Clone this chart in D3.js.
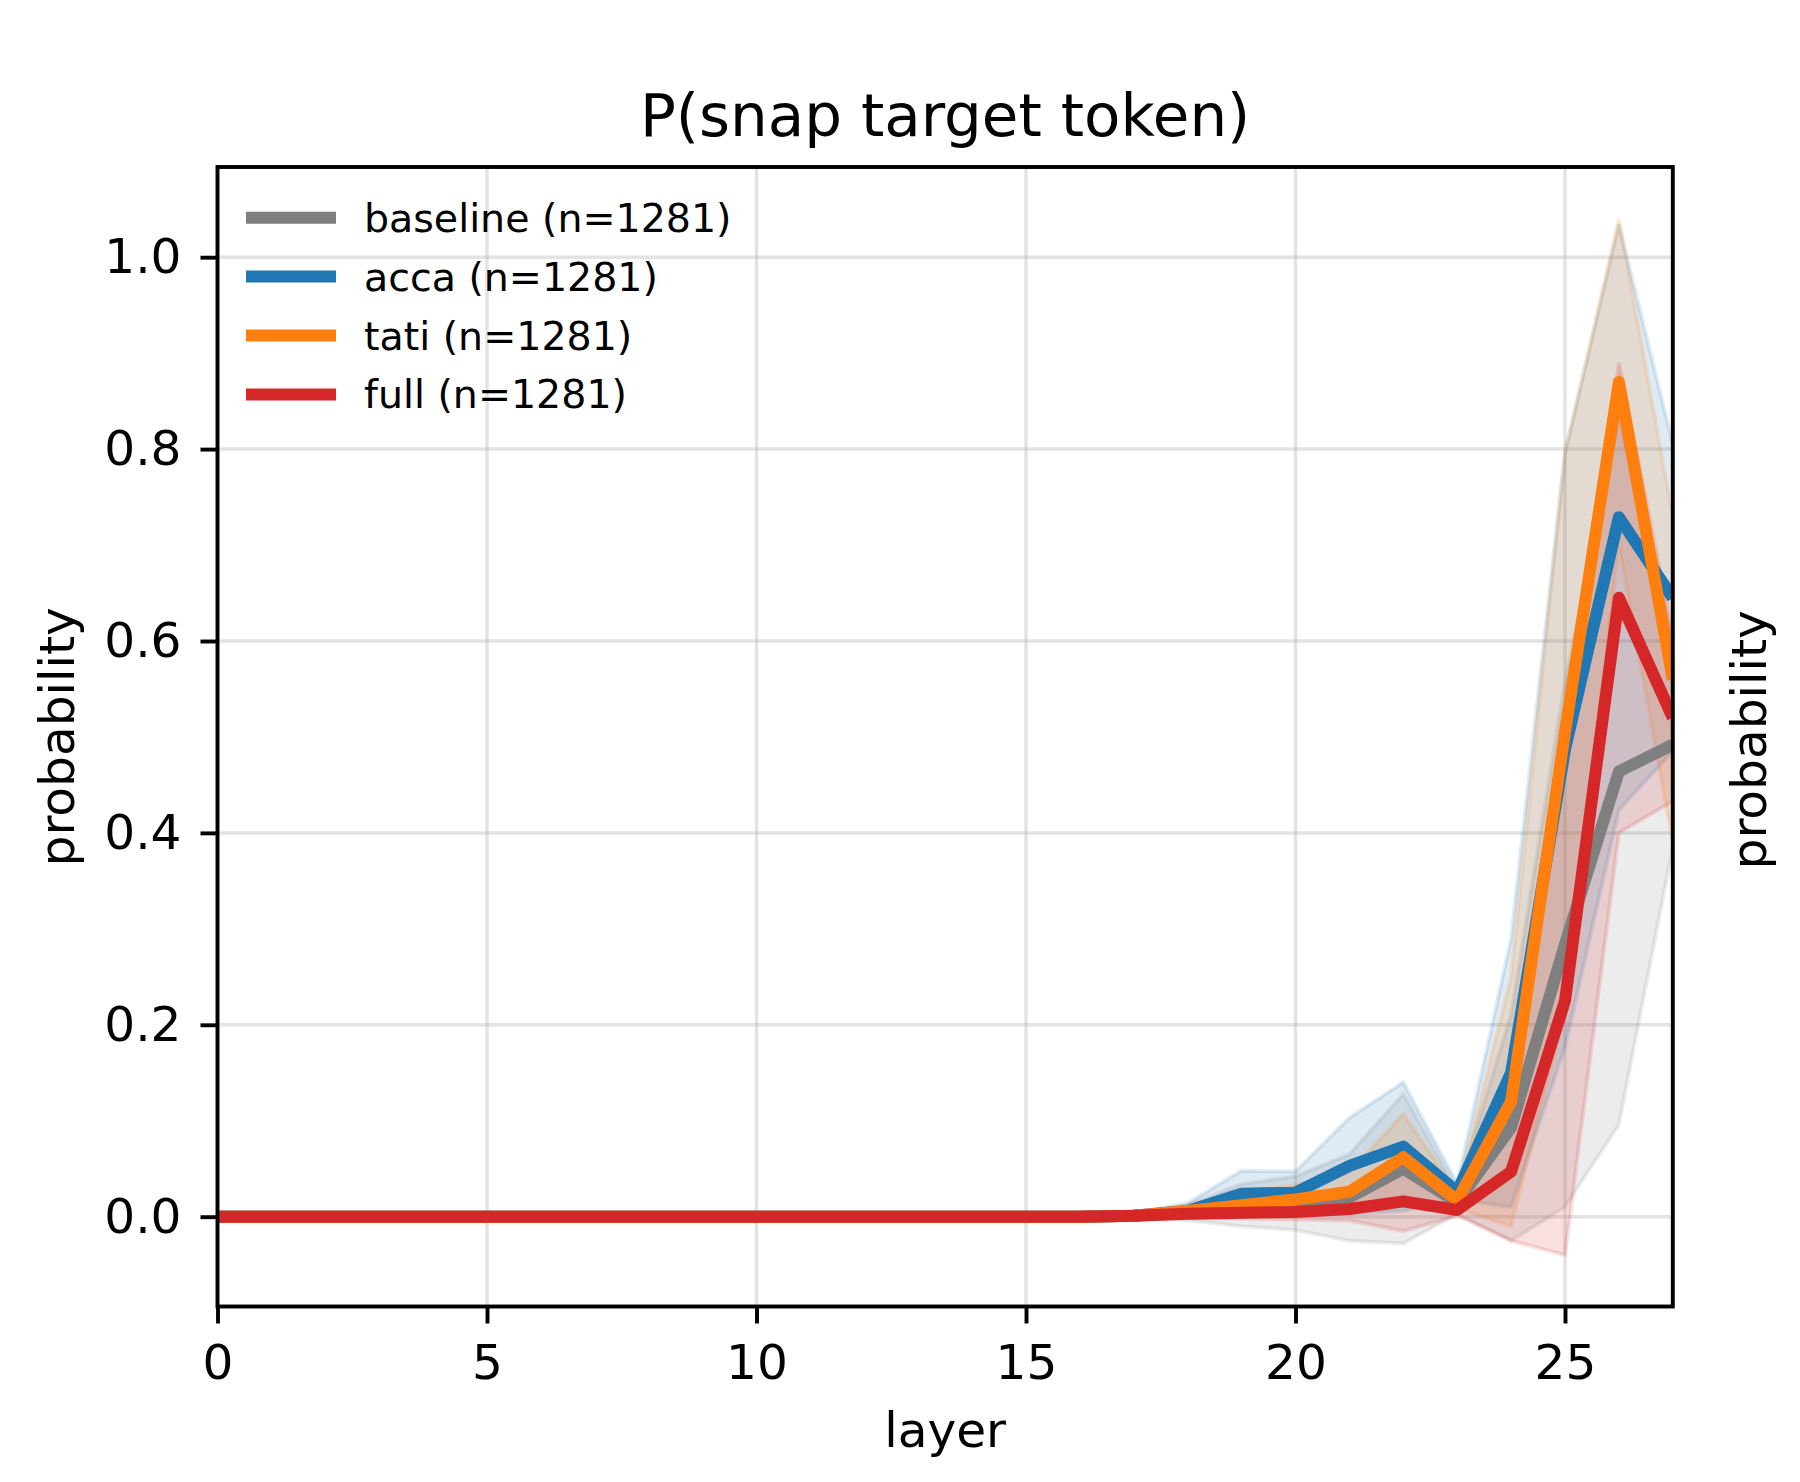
<!DOCTYPE html>
<html>
<head>
<meta charset="utf-8">
<script src="https://cdn.jsdelivr.net/npm/d3@7/dist/d3.min.js"></script>
<style>
  body { margin: 0; background: #fff; }
  text { font-family: "DejaVu Sans", sans-serif; }
</style>
</head>
<body>
<svg width="1800" height="1482"></svg>
<script>

// layers 0..27
var layers = d3.range(0, 28);

var seriesNames = [ "baseline (n=1281)", "acca (n=1281)", "tati (n=1281)", "full (n=1281)" ];
var seriesColors = [ "#7f7f7f", "#1f77b4", "#ff7f0e", "#d62728" ];

//                  0 .. 16 are flat                                 17     18     19     20     21     22     23     24     25     26     27
var baselineMean = [0,0,0,0,0,0,0,0,0,0,0,0,0,0,0,0,0,             0.001, 0.004, 0.012, 0.014, 0.020, 0.050, 0.015, 0.093, 0.284, 0.464, 0.492];
var baselineStd  = [0,0,0,0,0,0,0,0,0,0,0,0,0,0,0,0,0.001,         0.003, 0.008, 0.022, 0.028, 0.045, 0.078, 0.012, 0.118, 0.274, 0.368, 0.107];

var accaMean     = [0,0,0,0,0,0,0,0,0,0,0,0,0,0,0,0,0,             0.001, 0.006, 0.024, 0.025, 0.053, 0.073, 0.026, 0.150, 0.487, 0.729, 0.645];
var accaStd      = [0,0,0,0,0,0,0,0,0,0,0,0,0,0,0,0,0,             0.002, 0.008, 0.024, 0.022, 0.050, 0.067, 0.008, 0.140, 0.310, 0.305, 0.160];

var tatiMean     = [0,0,0,0,0,0,0,0,0,0,0,0,0,0,0,0,0,             0.001, 0.006, 0.012, 0.018, 0.026, 0.062, 0.017, 0.120, 0.505, 0.870, 0.560];
var tatiStd      = [0,0,0,0,0,0,0,0,0,0,0,0,0,0,0,0,0,             0.002, 0.006, 0.012, 0.015, 0.020, 0.045, 0.008, 0.130, 0.290, 0.170, 0.170];

var fullMean     = [0,0,0,0,0,0,0,0,0,0,0,0,0,0,0,0,0,             0.001, 0.003, 0.004, 0.005, 0.008, 0.016, 0.007, 0.047, 0.225, 0.645, 0.520];
var fullStd      = [0,0,0,0,0,0,0,0,0,0,0,0,0,0,0,0,0,             0.002, 0.004, 0.006, 0.008, 0.012, 0.031, 0.006, 0.072, 0.265, 0.245, 0.087];

var xTicks = [0, 5, 10, 15, 20, 25];
var yTicks = [0.0, 0.2, 0.4, 0.6, 0.8, 1.0];

var means = [ baselineMean, accaMean, tatiMean, fullMean ];
var stds  = [ baselineStd, accaStd, tatiStd, fullStd ];

var plot = { left: 217.5, right: 1672.8, top: 167, bottom: 1306.5 };

var svg = d3.select('svg')
  .style('background-color', '#fff');

var x = d3.scaleLinear()
  .domain([0, 27])
  .range([plot.left, plot.right]);

var y = d3.scaleLinear()
  .domain([-0.0936, 1.094])
  .range([plot.bottom, plot.top]);

svg.append('clipPath')
  .attr('id', 'clip')
  .append('rect')
  .attr('x', plot.left)
  .attr('y', plot.top)
  .attr('width', plot.right - plot.left)
  .attr('height', plot.bottom - plot.top);

// grid
var grid = svg.append('g');
grid.selectAll('line.gx')
  .data(xTicks)
  .enter()
  .append('line')
  .attr('x1', d => x(d)).attr('x2', d => x(d))
  .attr('y1', plot.top).attr('y2', plot.bottom)
  .attr('stroke', '#b0b0b0').attr('stroke-opacity', 0.35).attr('stroke-width', 3.5);
grid.selectAll('line.gy')
  .data(yTicks)
  .enter()
  .append('line')
  .attr('y1', d => y(d)).attr('y2', d => y(d))
  .attr('x1', plot.left).attr('x2', plot.right)
  .attr('stroke', '#b0b0b0').attr('stroke-opacity', 0.35).attr('stroke-width', 3.5);

// bands + lines
var area = d3.area()
  .x(d => x(d.layer))
  .y0(d => y(d.mean - d.std))
  .y1(d => y(d.mean + d.std));

var line = d3.line()
  .x(d => x(d.layer))
  .y(d => y(d.mean));

var g = svg.append('g').attr('clip-path', 'url(#clip)');

means.forEach(function(m, i) {
  var pts = layers.map((l, j) => ({ layer: l, mean: m[j], std: stds[i][j] }));
  g.append('path')
    .attr('d', area(pts))
    .attr('fill', seriesColors[i])
    .attr('fill-opacity', 0.15)
    .attr('stroke', seriesColors[i])
    .attr('stroke-opacity', 0.15)
    .attr('stroke-width', 4);
});

means.forEach(function(m, i) {
  var pts = layers.map((l, j) => ({ layer: l, mean: m[j] }));
  g.append('path')
    .attr('d', line(pts))
    .attr('fill', 'none')
    .attr('stroke', seriesColors[i])
    .attr('stroke-width', 12)
    .attr('stroke-linejoin', 'round');
});

// axes
var xAxis = svg.append('g')
  .attr('transform', `translate(0, ${plot.bottom})`)
  .call(d3.axisBottom(x).tickValues(xTicks).tickFormat(d3.format('d')).tickSize(17).tickPadding(21));

var yAxis = svg.append('g')
  .attr('transform', `translate(${plot.left}, 0)`)
  .call(d3.axisLeft(y).tickValues(yTicks).tickFormat(d3.format('.1f')).tickSize(17).tickPadding(19));

[xAxis, yAxis].forEach(function(a) {
  a.select('.domain').remove();
  a.selectAll('.tick line').attr('stroke', '#000').attr('stroke-width', 3.9);
  a.selectAll('.tick text')
    .attr('fill', '#000')
    .style('font-family', '"DejaVu Sans", sans-serif')
    .style('font-size', '48.6px');
});

// frame
svg.append('rect')
  .attr('x', plot.left)
  .attr('y', plot.top)
  .attr('width', plot.right - plot.left)
  .attr('height', plot.bottom - plot.top)
  .attr('fill', 'none')
  .attr('stroke', '#000')
  .attr('stroke-width', 3.9);

// title and labels
svg.append('text')
  .attr('x', (plot.left + plot.right) / 2)
  .attr('y', 136)
  .attr('text-anchor', 'middle')
  .style('font-size', '59.5px')
  .text('P(snap target token)');

svg.append('text')
  .attr('x', (plot.left + plot.right) / 2)
  .attr('y', 1447)
  .attr('text-anchor', 'middle')
  .style('font-size', '48.6px')
  .text('layer');

svg.append('text')
  .attr('transform', `translate(74, ${(plot.top + plot.bottom) / 2}) rotate(-90)`)
  .attr('text-anchor', 'middle')
  .style('font-size', '48.6px')
  .text('probability');

// y label of the neighbouring panel, cut by the image edge
svg.append('text')
  .attr('transform', `translate(1766, ${(plot.top + plot.bottom) / 2 + 3}) rotate(-90)`)
  .attr('text-anchor', 'middle')
  .style('font-size', '48.6px')
  .text('probability');

// legend (no frame)
var legend = svg.append('g')
  .selectAll('g')
  .data(seriesNames)
  .enter()
  .append('g')
  .attr('transform', (d, i) => `translate(0, ${231.7 + i * 58.9})`);

legend.append('line')
  .attr('x1', 246).attr('x2', 336)
  .attr('y1', -14).attr('y2', -14)
  .attr('stroke', (d, i) => seriesColors[i])
  .attr('stroke-width', 12);

legend.append('text')
  .attr('x', 364)
  .attr('y', 0)
  .style('font-size', '39.5px')
  .text(d => d);

</script>
</body>
</html>
